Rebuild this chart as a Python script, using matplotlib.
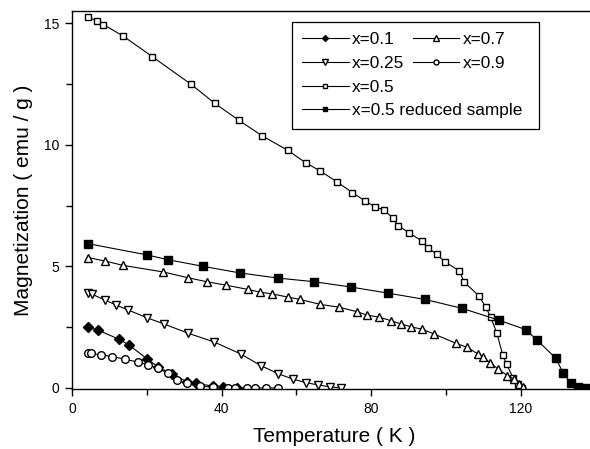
import matplotlib
matplotlib.use("Agg")
import matplotlib.pyplot as plt
from matplotlib.ticker import MultipleLocator

plt.rcParams['font.family'] = ['Liberation Sans', 'DejaVu Sans']

# x = 0.1 (filled diamonds)
t_01 = [4.4, 7.0, 12.6, 15.2, 20.0, 22.9, 26.8, 30.7, 33.1, 37.6, 40.3, 44.0]
m_01 = [2.49, 2.38, 2.00, 1.77, 1.21, 0.88, 0.56, 0.26, 0.19, 0.08, 0.03, 0.0]

# x = 0.25 (open down triangles)
t_025 = [4.4, 5.4, 8.8, 11.9, 15.1, 20.0, 24.6, 31.1, 38.0, 45.1, 50.5, 55.2,
         59.2, 62.6, 65.9, 69.0, 71.8]
m_025 = [3.89, 3.85, 3.62, 3.40, 3.20, 2.89, 2.63, 2.25, 1.89, 1.40, 0.92, 0.58,
         0.36, 0.22, 0.12, 0.05, 0.0]

# x = 0.5 (open squares)
t_05 = [4.2, 6.7, 8.4, 13.6, 21.5, 31.9, 38.2, 44.7, 50.7, 57.7, 62.6, 66.3,
        70.8, 75.0, 78.3, 81.0, 83.4, 85.7, 87.3, 90.1, 93.5, 95.3, 97.5, 99.6,
        103.6, 104.8, 108.8, 110.6, 112.0, 113.6, 115.2, 116.2, 118.0, 119.3, 120.4]
m_05 = [15.26, 15.08, 14.94, 14.48, 13.62, 12.48, 11.70, 11.00, 10.38, 9.77, 9.25, 8.93,
        8.48, 8.03, 7.70, 7.45, 7.32, 7.00, 6.67, 6.38, 6.05, 5.75, 5.50, 5.20,
        4.81, 4.36, 3.79, 3.33, 2.90, 2.25, 1.34, 0.97, 0.40, 0.15, 0.0]

# x = 0.5 reduced sample (filled squares)
t_red = [4.4, 20.1, 25.8, 35.1, 44.9, 55.0, 64.7, 74.6, 84.5, 94.4, 104.4, 114.3,
         121.3, 124.2, 129.3, 131.4, 133.4, 135.4, 137.2]
m_red = [5.93, 5.47, 5.27, 5.00, 4.73, 4.52, 4.37, 4.15, 3.90, 3.64, 3.27, 2.78,
         2.40, 1.99, 1.23, 0.60, 0.21, 0.03, 0.0]

# x = 0.7 (open up triangles)
t_07 = [4.4, 8.8, 13.7, 24.4, 31.1, 36.0, 41.1, 47.1, 50.3, 53.4, 57.7, 61.0,
        66.3, 71.4, 76.1, 78.8, 82.2, 85.2, 88.0, 90.6, 93.7, 96.8, 102.6, 105.7,
        108.5, 110.0, 111.8, 114.0, 116.4, 118.2, 119.6, 120.7]
m_07 = [5.36, 5.22, 5.04, 4.77, 4.53, 4.37, 4.23, 4.05, 3.94, 3.87, 3.74, 3.64,
        3.44, 3.32, 3.14, 3.00, 2.91, 2.77, 2.63, 2.52, 2.41, 2.22, 1.84, 1.67,
        1.40, 1.26, 1.04, 0.77, 0.51, 0.36, 0.18, 0.05]

# x = 0.9 (open circles)
t_09 = [4.4, 5.2, 7.7, 10.8, 14.2, 17.7, 20.4, 22.9, 25.8, 28.0, 30.7, 34.2,
        37.8, 41.8, 43.6, 46.7, 48.9, 52.0, 55.2]
m_09 = [1.45, 1.42, 1.36, 1.29, 1.18, 1.06, 0.95, 0.81, 0.60, 0.33, 0.19, 0.08,
        0.03, 0.0, 0.0, 0.0, 0.0, 0.0, 0.0]

fig = plt.figure(figsize=(5.9, 4.49), dpi=100)
ax = fig.add_axes([0.122, 0.1332, 0.8875, 0.8423])

common = dict(color='black', linewidth=0.8, markeredgewidth=1.0, markeredgecolor='black')
h01, = ax.plot(t_01, m_01, marker='D', markersize=4.6, markerfacecolor='black', label='x=0.1', **common)
h025, = ax.plot(t_025, m_025, marker='v', markersize=6.0, markerfacecolor='white', label='x=0.25', **common)
h05, = ax.plot(t_05, m_05, marker='s', markersize=5.0, markerfacecolor='white', label='x=0.5', **common)
hred, = ax.plot(t_red, m_red, marker='s', markersize=5.3, markerfacecolor='black', label='x=0.5 reduced sample', **common)
h07, = ax.plot(t_07, m_07, marker='^', markersize=6.0, markerfacecolor='white', label='x=0.7', **common)
h09, = ax.plot(t_09, m_09, marker='o', markersize=5.5, markerfacecolor='white', label='x=0.9', **common)

ax.set_xlim(0, 140)
ax.set_ylim(-0.05, 15.5)
ax.xaxis.set_major_locator(MultipleLocator(40))
ax.xaxis.set_minor_locator(MultipleLocator(20))
ax.yaxis.set_major_locator(MultipleLocator(5))
ax.yaxis.set_minor_locator(MultipleLocator(2.5))
ax.tick_params(which='both', direction='out', width=1, labelsize=10, top=False, right=False)
ax.tick_params(which='major', length=5, pad=4)
ax.tick_params(which='minor', length=4)
for s in ax.spines.values():
    s.set_linewidth(1)

ax.set_xlabel('Temperature ( K )', fontsize=15, labelpad=8)
ax.set_ylabel('Magnetization ( emu / g )', fontsize=15, labelpad=8)

leg_kw = dict(fontsize=12.4, handlelength=2.7, handletextpad=0.2, labelspacing=0.5,
              borderpad=0.6, borderaxespad=0, markerscale=0.65)
leg1 = ax.legend(handles=[h01, h025, h05, hred], loc='upper left',
                 bbox_to_anchor=(0.42, 0.688, 0.471, 0.283), mode='expand',
                 fancybox=False, framealpha=1, edgecolor='black', **leg_kw)
leg1.get_frame().set_linewidth(0.9)
ax.add_artist(leg1)
ax.legend(handles=[h07, h09], loc='upper left', bbox_to_anchor=(0.631, 0.971),
          frameon=False, **leg_kw)

fig.savefig('out.png', dpi=100)
